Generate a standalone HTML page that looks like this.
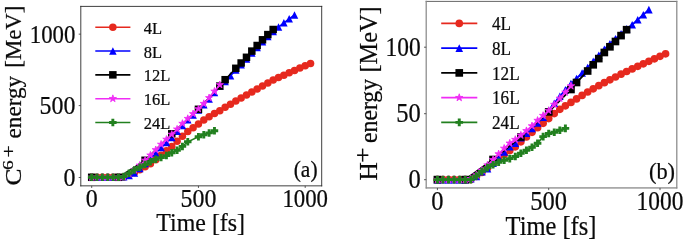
<!DOCTYPE html>
<html><head><meta charset="utf-8"><title>Ion energy vs time</title>
<style>
html,body{margin:0;padding:0;background:#fff;}
body{width:685px;height:240px;overflow:hidden;}
svg{display:block;will-change:transform;font-family:"Liberation Serif",serif;fill:#0a0a0a;}
text{stroke:#0a0a0a;stroke-width:0.22px;}
</style></head><body>
<svg width="685" height="240" viewBox="0 0 685 240">
<rect width="685" height="240" fill="#fff"/>
<g>
<polyline fill="none" stroke="#e6291e" stroke-width="1.55" points="91.70,177.30 97.04,177.30 102.38,177.30 107.71,177.30 113.05,177.30 118.39,177.30 123.72,176.90 129.06,175.10 134.40,172.50 139.74,169.80 145.07,166.80 150.41,163.80 155.75,159.80 161.09,155.30 166.43,150.80 171.76,146.50 177.10,141.30 182.44,136.30 187.78,131.60 193.11,127.80 198.45,124.00 203.79,120.10 209.12,116.70 214.46,113.55 219.80,110.80 225.14,107.30 230.48,104.20 235.81,101.05 241.15,97.90 246.49,94.90 251.82,91.90 257.16,88.90 262.50,85.90 267.84,82.90 273.18,80.10 278.51,77.60 283.85,75.20 289.19,72.80 294.52,70.40 299.86,68.10 305.20,65.80 310.54,63.60"/>
<circle cx="91.70" cy="177.30" r="3.75" fill="#e6291e"/>
<circle cx="97.04" cy="177.30" r="3.75" fill="#e6291e"/>
<circle cx="102.38" cy="177.30" r="3.75" fill="#e6291e"/>
<circle cx="107.71" cy="177.30" r="3.75" fill="#e6291e"/>
<circle cx="113.05" cy="177.30" r="3.75" fill="#e6291e"/>
<circle cx="118.39" cy="177.30" r="3.75" fill="#e6291e"/>
<circle cx="123.72" cy="176.90" r="3.75" fill="#e6291e"/>
<circle cx="129.06" cy="175.10" r="3.75" fill="#e6291e"/>
<circle cx="134.40" cy="172.50" r="3.75" fill="#e6291e"/>
<circle cx="139.74" cy="169.80" r="3.75" fill="#e6291e"/>
<circle cx="145.07" cy="166.80" r="3.75" fill="#e6291e"/>
<circle cx="150.41" cy="163.80" r="3.75" fill="#e6291e"/>
<circle cx="155.75" cy="159.80" r="3.75" fill="#e6291e"/>
<circle cx="161.09" cy="155.30" r="3.75" fill="#e6291e"/>
<circle cx="166.43" cy="150.80" r="3.75" fill="#e6291e"/>
<circle cx="171.76" cy="146.50" r="3.75" fill="#e6291e"/>
<circle cx="177.10" cy="141.30" r="3.75" fill="#e6291e"/>
<circle cx="182.44" cy="136.30" r="3.75" fill="#e6291e"/>
<circle cx="187.78" cy="131.60" r="3.75" fill="#e6291e"/>
<circle cx="193.11" cy="127.80" r="3.75" fill="#e6291e"/>
<circle cx="198.45" cy="124.00" r="3.75" fill="#e6291e"/>
<circle cx="203.79" cy="120.10" r="3.75" fill="#e6291e"/>
<circle cx="209.12" cy="116.70" r="3.75" fill="#e6291e"/>
<circle cx="214.46" cy="113.55" r="3.75" fill="#e6291e"/>
<circle cx="219.80" cy="110.80" r="3.75" fill="#e6291e"/>
<circle cx="225.14" cy="107.30" r="3.75" fill="#e6291e"/>
<circle cx="230.48" cy="104.20" r="3.75" fill="#e6291e"/>
<circle cx="235.81" cy="101.05" r="3.75" fill="#e6291e"/>
<circle cx="241.15" cy="97.90" r="3.75" fill="#e6291e"/>
<circle cx="246.49" cy="94.90" r="3.75" fill="#e6291e"/>
<circle cx="251.82" cy="91.90" r="3.75" fill="#e6291e"/>
<circle cx="257.16" cy="88.90" r="3.75" fill="#e6291e"/>
<circle cx="262.50" cy="85.90" r="3.75" fill="#e6291e"/>
<circle cx="267.84" cy="82.90" r="3.75" fill="#e6291e"/>
<circle cx="273.18" cy="80.10" r="3.75" fill="#e6291e"/>
<circle cx="278.51" cy="77.60" r="3.75" fill="#e6291e"/>
<circle cx="283.85" cy="75.20" r="3.75" fill="#e6291e"/>
<circle cx="289.19" cy="72.80" r="3.75" fill="#e6291e"/>
<circle cx="294.52" cy="70.40" r="3.75" fill="#e6291e"/>
<circle cx="299.86" cy="68.10" r="3.75" fill="#e6291e"/>
<circle cx="305.20" cy="65.80" r="3.75" fill="#e6291e"/>
<circle cx="310.54" cy="63.60" r="3.75" fill="#e6291e"/>
<polyline fill="none" stroke="#0000ff" stroke-width="1.55" points="91.70,177.30 97.04,177.30 102.38,177.30 107.71,177.30 113.05,177.30 118.39,177.30 123.72,176.80 129.06,175.60 134.40,173.00 139.74,168.50 145.07,163.50 150.41,158.40 155.75,153.00 161.09,147.60 166.43,142.60 171.76,137.60 177.10,131.20 182.44,125.50 187.78,119.80 193.11,115.00 198.45,110.10 203.79,104.80 209.12,99.00 214.46,92.50 219.80,86.00 225.14,81.50 230.48,75.80 235.81,70.10 241.15,64.80 246.49,59.10 251.82,53.10 257.16,47.50 262.50,41.80 267.84,36.50 273.18,31.50 278.51,27.00 283.85,22.80 289.19,18.80 294.52,15.00"/>
<path d="M91.70 173.55L95.45 181.05L87.95 181.05Z" fill="#0000ff"/>
<path d="M97.04 173.55L100.79 181.05L93.29 181.05Z" fill="#0000ff"/>
<path d="M102.38 173.55L106.12 181.05L98.62 181.05Z" fill="#0000ff"/>
<path d="M107.71 173.55L111.46 181.05L103.96 181.05Z" fill="#0000ff"/>
<path d="M113.05 173.55L116.80 181.05L109.30 181.05Z" fill="#0000ff"/>
<path d="M118.39 173.55L122.14 181.05L114.64 181.05Z" fill="#0000ff"/>
<path d="M123.72 173.05L127.47 180.55L119.97 180.55Z" fill="#0000ff"/>
<path d="M129.06 171.85L132.81 179.35L125.31 179.35Z" fill="#0000ff"/>
<path d="M134.40 169.25L138.15 176.75L130.65 176.75Z" fill="#0000ff"/>
<path d="M139.74 164.75L143.49 172.25L135.99 172.25Z" fill="#0000ff"/>
<path d="M145.07 159.75L148.82 167.25L141.32 167.25Z" fill="#0000ff"/>
<path d="M150.41 154.65L154.16 162.15L146.66 162.15Z" fill="#0000ff"/>
<path d="M155.75 149.25L159.50 156.75L152.00 156.75Z" fill="#0000ff"/>
<path d="M161.09 143.85L164.84 151.35L157.34 151.35Z" fill="#0000ff"/>
<path d="M166.43 138.85L170.18 146.35L162.68 146.35Z" fill="#0000ff"/>
<path d="M171.76 133.85L175.51 141.35L168.01 141.35Z" fill="#0000ff"/>
<path d="M177.10 127.45L180.85 134.95L173.35 134.95Z" fill="#0000ff"/>
<path d="M182.44 121.75L186.19 129.25L178.69 129.25Z" fill="#0000ff"/>
<path d="M187.78 116.05L191.53 123.55L184.03 123.55Z" fill="#0000ff"/>
<path d="M193.11 111.25L196.86 118.75L189.36 118.75Z" fill="#0000ff"/>
<path d="M198.45 106.35L202.20 113.85L194.70 113.85Z" fill="#0000ff"/>
<path d="M203.79 101.05L207.54 108.55L200.04 108.55Z" fill="#0000ff"/>
<path d="M209.12 95.25L212.88 102.75L205.38 102.75Z" fill="#0000ff"/>
<path d="M214.46 88.75L218.21 96.25L210.71 96.25Z" fill="#0000ff"/>
<path d="M219.80 82.25L223.55 89.75L216.05 89.75Z" fill="#0000ff"/>
<path d="M225.14 77.75L228.89 85.25L221.39 85.25Z" fill="#0000ff"/>
<path d="M230.48 72.05L234.23 79.55L226.73 79.55Z" fill="#0000ff"/>
<path d="M235.81 66.35L239.56 73.85L232.06 73.85Z" fill="#0000ff"/>
<path d="M241.15 61.05L244.90 68.55L237.40 68.55Z" fill="#0000ff"/>
<path d="M246.49 55.35L250.24 62.85L242.74 62.85Z" fill="#0000ff"/>
<path d="M251.82 49.35L255.57 56.85L248.07 56.85Z" fill="#0000ff"/>
<path d="M257.16 43.75L260.91 51.25L253.41 51.25Z" fill="#0000ff"/>
<path d="M262.50 38.05L266.25 45.55L258.75 45.55Z" fill="#0000ff"/>
<path d="M267.84 32.75L271.59 40.25L264.09 40.25Z" fill="#0000ff"/>
<path d="M273.18 27.75L276.93 35.25L269.43 35.25Z" fill="#0000ff"/>
<path d="M278.51 23.25L282.26 30.75L274.76 30.75Z" fill="#0000ff"/>
<path d="M283.85 19.05L287.60 26.55L280.10 26.55Z" fill="#0000ff"/>
<path d="M289.19 15.05L292.94 22.55L285.44 22.55Z" fill="#0000ff"/>
<path d="M294.52 11.25L298.27 18.75L290.77 18.75Z" fill="#0000ff"/>
<polyline fill="none" stroke="#000000" stroke-width="1.55" points="91.70,177.30 118.39,177.30 145.07,160.30 171.76,133.80 198.45,109.30 219.80,86.10 225.14,79.70 235.81,68.30 241.15,63.00 246.49,57.30 251.82,51.10 257.16,45.50 262.50,39.80 267.84,34.60 273.18,29.50"/>
<rect x="87.95" y="173.55" width="7.50" height="7.50" fill="#000000"/>
<rect x="114.64" y="173.55" width="7.50" height="7.50" fill="#000000"/>
<rect x="141.32" y="156.55" width="7.50" height="7.50" fill="#000000"/>
<rect x="168.01" y="130.05" width="7.50" height="7.50" fill="#000000"/>
<rect x="194.70" y="105.55" width="7.50" height="7.50" fill="#000000"/>
<rect x="216.05" y="82.35" width="7.50" height="7.50" fill="#000000"/>
<rect x="221.39" y="75.95" width="7.50" height="7.50" fill="#000000"/>
<rect x="232.06" y="64.55" width="7.50" height="7.50" fill="#000000"/>
<rect x="237.40" y="59.25" width="7.50" height="7.50" fill="#000000"/>
<rect x="242.74" y="53.55" width="7.50" height="7.50" fill="#000000"/>
<rect x="248.07" y="47.35" width="7.50" height="7.50" fill="#000000"/>
<rect x="253.41" y="41.75" width="7.50" height="7.50" fill="#000000"/>
<rect x="258.75" y="36.05" width="7.50" height="7.50" fill="#000000"/>
<rect x="264.09" y="30.85" width="7.50" height="7.50" fill="#000000"/>
<rect x="269.43" y="25.75" width="7.50" height="7.50" fill="#000000"/>
<polyline fill="none" stroke="#f02cf5" stroke-width="1.55" points="91.70,177.30 97.04,177.30 102.38,177.30 107.71,177.30 113.05,177.30 118.39,177.30 123.72,176.80 129.06,174.10 134.40,169.80 139.74,165.30 145.07,160.30 150.41,155.20 155.75,149.80 161.09,144.40 166.43,139.40 171.76,134.40 177.10,129.20 182.44,123.50 187.78,118.60 193.11,113.80 198.45,108.90 203.79,103.60 209.12,97.80 214.46,91.30 219.80,84.80"/>
<polygon points="91.70,173.50 92.55,176.13 95.31,176.13 93.08,177.75 93.93,180.37 91.70,178.75 89.47,180.37 90.32,177.75 88.09,176.13 90.85,176.13" fill="#f02cf5" stroke="#f02cf5" stroke-width="0.85" stroke-linejoin="miter" stroke-miterlimit="10"/>
<polygon points="97.04,173.50 97.89,176.13 100.65,176.13 98.42,177.75 99.27,180.37 97.04,178.75 94.80,180.37 95.66,177.75 93.42,176.13 96.18,176.13" fill="#f02cf5" stroke="#f02cf5" stroke-width="0.85" stroke-linejoin="miter" stroke-miterlimit="10"/>
<polygon points="102.38,173.50 103.23,176.13 105.99,176.13 103.76,177.75 104.61,180.37 102.38,178.75 100.14,180.37 100.99,177.75 98.76,176.13 101.52,176.13" fill="#f02cf5" stroke="#f02cf5" stroke-width="0.85" stroke-linejoin="miter" stroke-miterlimit="10"/>
<polygon points="107.71,173.50 108.57,176.13 111.33,176.13 109.09,177.75 109.95,180.37 107.71,178.75 105.48,180.37 106.33,177.75 104.10,176.13 106.86,176.13" fill="#f02cf5" stroke="#f02cf5" stroke-width="0.85" stroke-linejoin="miter" stroke-miterlimit="10"/>
<polygon points="113.05,173.50 113.90,176.13 116.66,176.13 114.43,177.75 115.28,180.37 113.05,178.75 110.82,180.37 111.67,177.75 109.44,176.13 112.20,176.13" fill="#f02cf5" stroke="#f02cf5" stroke-width="0.85" stroke-linejoin="miter" stroke-miterlimit="10"/>
<polygon points="118.39,173.50 119.24,176.13 122.00,176.13 119.77,177.75 120.62,180.37 118.39,178.75 116.15,180.37 117.01,177.75 114.77,176.13 117.53,176.13" fill="#f02cf5" stroke="#f02cf5" stroke-width="0.85" stroke-linejoin="miter" stroke-miterlimit="10"/>
<polygon points="123.72,173.00 124.58,175.63 127.34,175.63 125.11,177.25 125.96,179.87 123.72,178.25 121.49,179.87 122.34,177.25 120.11,175.63 122.87,175.63" fill="#f02cf5" stroke="#f02cf5" stroke-width="0.85" stroke-linejoin="miter" stroke-miterlimit="10"/>
<polygon points="129.06,170.30 129.92,172.93 132.68,172.93 130.44,174.55 131.30,177.17 129.06,175.55 126.83,177.17 127.68,174.55 125.45,172.93 128.21,172.93" fill="#f02cf5" stroke="#f02cf5" stroke-width="0.85" stroke-linejoin="miter" stroke-miterlimit="10"/>
<polygon points="134.40,166.00 135.25,168.63 138.01,168.63 135.78,170.25 136.63,172.87 134.40,171.25 132.17,172.87 133.02,170.25 130.79,168.63 133.55,168.63" fill="#f02cf5" stroke="#f02cf5" stroke-width="0.85" stroke-linejoin="miter" stroke-miterlimit="10"/>
<polygon points="139.74,161.50 140.59,164.13 143.35,164.13 141.12,165.75 141.97,168.37 139.74,166.75 137.50,168.37 138.36,165.75 136.12,164.13 138.88,164.13" fill="#f02cf5" stroke="#f02cf5" stroke-width="0.85" stroke-linejoin="miter" stroke-miterlimit="10"/>
<polygon points="145.07,156.50 145.93,159.13 148.69,159.13 146.46,160.75 147.31,163.37 145.07,161.75 142.84,163.37 143.69,160.75 141.46,159.13 144.22,159.13" fill="#f02cf5" stroke="#f02cf5" stroke-width="0.85" stroke-linejoin="miter" stroke-miterlimit="10"/>
<polygon points="150.41,151.40 151.27,154.03 154.03,154.03 151.79,155.65 152.65,158.27 150.41,156.65 148.18,158.27 149.03,155.65 146.80,154.03 149.56,154.03" fill="#f02cf5" stroke="#f02cf5" stroke-width="0.85" stroke-linejoin="miter" stroke-miterlimit="10"/>
<polygon points="155.75,146.00 156.60,148.63 159.36,148.63 157.13,150.25 157.98,152.87 155.75,151.25 153.52,152.87 154.37,150.25 152.14,148.63 154.90,148.63" fill="#f02cf5" stroke="#f02cf5" stroke-width="0.85" stroke-linejoin="miter" stroke-miterlimit="10"/>
<polygon points="161.09,140.60 161.94,143.23 164.70,143.23 162.47,144.85 163.32,147.47 161.09,145.85 158.85,147.47 159.71,144.85 157.47,143.23 160.23,143.23" fill="#f02cf5" stroke="#f02cf5" stroke-width="0.85" stroke-linejoin="miter" stroke-miterlimit="10"/>
<polygon points="166.43,135.60 167.28,138.23 170.04,138.23 167.81,139.85 168.66,142.47 166.43,140.85 164.19,142.47 165.04,139.85 162.81,138.23 165.57,138.23" fill="#f02cf5" stroke="#f02cf5" stroke-width="0.85" stroke-linejoin="miter" stroke-miterlimit="10"/>
<polygon points="171.76,130.60 172.62,133.23 175.38,133.23 173.14,134.85 174.00,137.47 171.76,135.85 169.53,137.47 170.38,134.85 168.15,133.23 170.91,133.23" fill="#f02cf5" stroke="#f02cf5" stroke-width="0.85" stroke-linejoin="miter" stroke-miterlimit="10"/>
<polygon points="177.10,125.40 177.95,128.03 180.71,128.03 178.48,129.65 179.33,132.27 177.10,130.65 174.87,132.27 175.72,129.65 173.49,128.03 176.25,128.03" fill="#f02cf5" stroke="#f02cf5" stroke-width="0.85" stroke-linejoin="miter" stroke-miterlimit="10"/>
<polygon points="182.44,119.70 183.29,122.33 186.05,122.33 183.82,123.95 184.67,126.57 182.44,124.95 180.20,126.57 181.06,123.95 178.82,122.33 181.58,122.33" fill="#f02cf5" stroke="#f02cf5" stroke-width="0.85" stroke-linejoin="miter" stroke-miterlimit="10"/>
<polygon points="187.78,114.80 188.63,117.43 191.39,117.43 189.16,119.05 190.01,121.67 187.78,120.05 185.54,121.67 186.39,119.05 184.16,117.43 186.92,117.43" fill="#f02cf5" stroke="#f02cf5" stroke-width="0.85" stroke-linejoin="miter" stroke-miterlimit="10"/>
<polygon points="193.11,110.00 193.97,112.63 196.73,112.63 194.49,114.25 195.35,116.87 193.11,115.25 190.88,116.87 191.73,114.25 189.50,112.63 192.26,112.63" fill="#f02cf5" stroke="#f02cf5" stroke-width="0.85" stroke-linejoin="miter" stroke-miterlimit="10"/>
<polygon points="198.45,105.10 199.30,107.73 202.06,107.73 199.83,109.35 200.68,111.97 198.45,110.35 196.22,111.97 197.07,109.35 194.84,107.73 197.60,107.73" fill="#f02cf5" stroke="#f02cf5" stroke-width="0.85" stroke-linejoin="miter" stroke-miterlimit="10"/>
<polygon points="203.79,99.80 204.64,102.43 207.40,102.43 205.17,104.05 206.02,106.67 203.79,105.05 201.55,106.67 202.41,104.05 200.17,102.43 202.93,102.43" fill="#f02cf5" stroke="#f02cf5" stroke-width="0.85" stroke-linejoin="miter" stroke-miterlimit="10"/>
<polygon points="209.12,94.00 209.98,96.63 212.74,96.63 210.51,98.25 211.36,100.87 209.12,99.25 206.89,100.87 207.74,98.25 205.51,96.63 208.27,96.63" fill="#f02cf5" stroke="#f02cf5" stroke-width="0.85" stroke-linejoin="miter" stroke-miterlimit="10"/>
<polygon points="214.46,87.50 215.32,90.13 218.08,90.13 215.84,91.75 216.70,94.37 214.46,92.75 212.23,94.37 213.08,91.75 210.85,90.13 213.61,90.13" fill="#f02cf5" stroke="#f02cf5" stroke-width="0.85" stroke-linejoin="miter" stroke-miterlimit="10"/>
<polygon points="219.80,81.00 220.65,83.63 223.41,83.63 221.18,85.25 222.03,87.87 219.80,86.25 217.57,87.87 218.42,85.25 216.19,83.63 218.95,83.63" fill="#f02cf5" stroke="#f02cf5" stroke-width="0.85" stroke-linejoin="miter" stroke-miterlimit="10"/>
<polyline fill="none" stroke="#22801f" stroke-width="1.55" points="91.70,177.30 97.04,177.30 102.38,177.30 107.71,177.30 113.05,177.30 118.39,177.30 123.72,176.60 129.06,173.30 134.40,169.90 139.74,167.30 145.07,164.60 150.41,161.80 155.75,159.30 161.09,157.60 166.43,155.60 171.76,152.80 177.10,150.30 182.44,146.40 187.78,141.80 198.45,136.70 203.79,134.80 209.12,132.90 214.46,130.80"/>
<path d="M90.26 173.55H93.14V175.86H95.45V178.74H93.14V181.05H90.26V178.74H87.95V175.86H90.26Z" fill="#22801f"/>
<path d="M95.60 173.55H98.48V175.86H100.79V178.74H98.48V181.05H95.60V178.74H93.29V175.86H95.60Z" fill="#22801f"/>
<path d="M100.94 173.55H103.81V175.86H106.12V178.74H103.81V181.05H100.94V178.74H98.62V175.86H100.94Z" fill="#22801f"/>
<path d="M106.28 173.55H109.15V175.86H111.46V178.74H109.15V181.05H106.28V178.74H103.96V175.86H106.28Z" fill="#22801f"/>
<path d="M111.61 173.55H114.49V175.86H116.80V178.74H114.49V181.05H111.61V178.74H109.30V175.86H111.61Z" fill="#22801f"/>
<path d="M116.95 173.55H119.83V175.86H122.14V178.74H119.83V181.05H116.95V178.74H114.64V175.86H116.95Z" fill="#22801f"/>
<path d="M122.29 172.85H125.16V175.16H127.47V178.04H125.16V180.35H122.29V178.04H119.97V175.16H122.29Z" fill="#22801f"/>
<path d="M127.62 169.55H130.50V171.86H132.81V174.74H130.50V177.05H127.62V174.74H125.31V171.86H127.62Z" fill="#22801f"/>
<path d="M132.96 166.15H135.84V168.46H138.15V171.34H135.84V173.65H132.96V171.34H130.65V168.46H132.96Z" fill="#22801f"/>
<path d="M138.30 163.55H141.18V165.86H143.49V168.74H141.18V171.05H138.30V168.74H135.99V165.86H138.30Z" fill="#22801f"/>
<path d="M143.64 160.85H146.51V163.16H148.82V166.04H146.51V168.35H143.64V166.04H141.32V163.16H143.64Z" fill="#22801f"/>
<path d="M148.97 158.05H151.85V160.36H154.16V163.24H151.85V165.55H148.97V163.24H146.66V160.36H148.97Z" fill="#22801f"/>
<path d="M154.31 155.55H157.19V157.86H159.50V160.74H157.19V163.05H154.31V160.74H152.00V157.86H154.31Z" fill="#22801f"/>
<path d="M159.65 153.85H162.53V156.16H164.84V159.04H162.53V161.35H159.65V159.04H157.34V156.16H159.65Z" fill="#22801f"/>
<path d="M164.99 151.85H167.86V154.16H170.18V157.04H167.86V159.35H164.99V157.04H162.68V154.16H164.99Z" fill="#22801f"/>
<path d="M170.32 149.05H173.20V151.36H175.51V154.24H173.20V156.55H170.32V154.24H168.01V151.36H170.32Z" fill="#22801f"/>
<path d="M175.66 146.55H178.54V148.86H180.85V151.74H178.54V154.05H175.66V151.74H173.35V148.86H175.66Z" fill="#22801f"/>
<path d="M181.00 142.65H183.88V144.96H186.19V147.84H183.88V150.15H181.00V147.84H178.69V144.96H181.00Z" fill="#22801f"/>
<path d="M186.34 138.05H189.21V140.36H191.53V143.24H189.21V145.55H186.34V143.24H184.03V140.36H186.34Z" fill="#22801f"/>
<path d="M197.01 132.95H199.89V135.26H202.20V138.14H199.89V140.45H197.01V138.14H194.70V135.26H197.01Z" fill="#22801f"/>
<path d="M202.35 131.05H205.23V133.36H207.54V136.24H205.23V138.55H202.35V136.24H200.04V133.36H202.35Z" fill="#22801f"/>
<path d="M207.69 129.15H210.56V131.46H212.88V134.34H210.56V136.65H207.69V134.34H205.38V131.46H207.69Z" fill="#22801f"/>
<path d="M213.03 127.05H215.90V129.36H218.21V132.24H215.90V134.55H213.03V132.24H210.71V129.36H213.03Z" fill="#22801f"/>
<path d="M80.80 6.40H321.70M80.80 185.85H321.70" fill="none" stroke="#2a2a2a" stroke-width="0.9" stroke-linecap="square"/>
<path d="M80.80 6.40V185.85M321.70 6.40V185.85" fill="none" stroke="#2a2a2a" stroke-width="0.9" stroke-linecap="square"/>
<line x1="91.70" y1="185.85" x2="91.70" y2="187.95" stroke="#333" stroke-width="0.8"/>
<text transform="translate(91.70,207.00) scale(1.0,1.075)" font-size="23.90" text-anchor="middle">0</text>
<line x1="198.45" y1="185.85" x2="198.45" y2="187.95" stroke="#333" stroke-width="0.8"/>
<text transform="translate(198.45,207.00) scale(1.0,1.075)" font-size="23.90" text-anchor="middle">500</text>
<line x1="305.20" y1="185.85" x2="305.20" y2="187.95" stroke="#333" stroke-width="0.8"/>
<text transform="translate(305.20,207.00) scale(0.955,1.075)" font-size="23.90" text-anchor="middle">1000</text>
<line x1="78.70" y1="177.50" x2="80.80" y2="177.50" stroke="#333" stroke-width="0.8"/>
<text transform="translate(75.40,185.98) scale(1.0,1.075)" font-size="23.90" text-anchor="end">0</text>
<line x1="78.70" y1="105.60" x2="80.80" y2="105.60" stroke="#333" stroke-width="0.8"/>
<text transform="translate(75.40,114.08) scale(1.0,1.075)" font-size="23.90" text-anchor="end">500</text>
<line x1="78.70" y1="34.15" x2="80.80" y2="34.15" stroke="#333" stroke-width="0.8"/>
<text transform="translate(75.40,42.63) scale(0.955,1.075)" font-size="23.90" text-anchor="end">1000</text>
<text transform="translate(200.70,230.70) scale(1.0,1.075)" font-size="23.90" text-anchor="middle">Time [fs]</text>
<text transform="translate(20.60,185.40) rotate(-90) scale(1.08,1.0)" font-size="23.50" text-anchor="start">C</text><text transform="translate(13.30,169.90) rotate(-90) scale(1.25,0.95)" font-size="15.50" text-anchor="start">6</text><text transform="translate(15.00,157.50) rotate(-90) scale(0.95,0.86)" font-size="23.00" text-anchor="start">+</text><text transform="translate(20.60,138.40) rotate(-90) scale(0.985,1.0)" font-size="23.50" text-anchor="start">energy</text><text transform="translate(20.60,5.60) rotate(-90) scale(0.972,1.0)" font-size="23.50" text-anchor="end">[MeV]</text>
<text transform="translate(305.60,176.70) scale(1.0,1.075)" font-size="21.50" text-anchor="middle">(a)</text>
<line x1="95.30" y1="27.25" x2="130.40" y2="27.25" stroke="#e6291e" stroke-width="1.55"/>
<circle cx="112.85" cy="27.25" r="3.75" fill="#e6291e"/>
<text transform="translate(143.80,33.75) scale(1.0,1.075)" font-size="16.50" text-anchor="start">4L</text>
<line x1="95.30" y1="51.05" x2="130.40" y2="51.05" stroke="#0000ff" stroke-width="1.55"/>
<path d="M112.85 47.30L116.60 54.80L109.10 54.80Z" fill="#0000ff"/>
<text transform="translate(143.80,57.55) scale(1.0,1.075)" font-size="16.50" text-anchor="start">8L</text>
<line x1="95.30" y1="74.85" x2="130.40" y2="74.85" stroke="#000000" stroke-width="1.55"/>
<rect x="109.10" y="71.10" width="7.50" height="7.50" fill="#000000"/>
<text transform="translate(143.80,81.35) scale(1.0,1.075)" font-size="16.50" text-anchor="start">12L</text>
<line x1="95.30" y1="98.65" x2="130.40" y2="98.65" stroke="#f02cf5" stroke-width="1.55"/>
<polygon points="112.85,94.85 113.70,97.48 116.46,97.48 114.23,99.10 115.08,101.72 112.85,100.10 110.62,101.72 111.47,99.10 109.24,97.48 112.00,97.48" fill="#f02cf5" stroke="#f02cf5" stroke-width="0.85" stroke-linejoin="miter" stroke-miterlimit="10"/>
<text transform="translate(143.80,105.15) scale(1.0,1.075)" font-size="16.50" text-anchor="start">16L</text>
<line x1="95.30" y1="122.45" x2="130.40" y2="122.45" stroke="#22801f" stroke-width="1.55"/>
<path d="M111.41 118.70H114.29V121.01H116.60V123.89H114.29V126.20H111.41V123.89H109.10V121.01H111.41Z" fill="#22801f"/>
<text transform="translate(143.80,128.95) scale(1.0,1.075)" font-size="16.50" text-anchor="start">24L</text>
</g>
<g>
<polyline fill="none" stroke="#e6291e" stroke-width="1.80" points="437.40,179.60 442.96,179.60 448.53,179.60 454.09,179.60 459.66,179.60 465.22,179.60 470.79,179.60 476.35,176.50 481.92,172.50 487.49,168.00 493.05,163.30 498.62,158.80 504.18,154.40 509.75,150.50 515.31,146.80 520.88,141.80 526.44,137.00 532.00,132.30 537.57,127.70 543.13,123.30 548.70,118.60 554.26,113.60 559.83,109.30 565.39,105.80 570.96,102.40 576.52,98.90 582.09,95.40 587.65,92.00 593.22,88.80 598.78,85.70 604.35,82.70 609.91,79.80 615.48,77.00 621.05,74.20 626.61,71.50 632.17,68.90 637.74,66.30 643.31,63.80 648.87,61.30 654.43,58.80 660.00,56.30 665.57,53.80"/>
<circle cx="437.40" cy="179.60" r="3.83" fill="#e6291e"/>
<circle cx="442.96" cy="179.60" r="3.83" fill="#e6291e"/>
<circle cx="448.53" cy="179.60" r="3.83" fill="#e6291e"/>
<circle cx="454.09" cy="179.60" r="3.83" fill="#e6291e"/>
<circle cx="459.66" cy="179.60" r="3.83" fill="#e6291e"/>
<circle cx="465.22" cy="179.60" r="3.83" fill="#e6291e"/>
<circle cx="470.79" cy="179.60" r="3.83" fill="#e6291e"/>
<circle cx="476.35" cy="176.50" r="3.83" fill="#e6291e"/>
<circle cx="481.92" cy="172.50" r="3.83" fill="#e6291e"/>
<circle cx="487.49" cy="168.00" r="3.83" fill="#e6291e"/>
<circle cx="493.05" cy="163.30" r="3.83" fill="#e6291e"/>
<circle cx="498.62" cy="158.80" r="3.83" fill="#e6291e"/>
<circle cx="504.18" cy="154.40" r="3.83" fill="#e6291e"/>
<circle cx="509.75" cy="150.50" r="3.83" fill="#e6291e"/>
<circle cx="515.31" cy="146.80" r="3.83" fill="#e6291e"/>
<circle cx="520.88" cy="141.80" r="3.83" fill="#e6291e"/>
<circle cx="526.44" cy="137.00" r="3.83" fill="#e6291e"/>
<circle cx="532.00" cy="132.30" r="3.83" fill="#e6291e"/>
<circle cx="537.57" cy="127.70" r="3.83" fill="#e6291e"/>
<circle cx="543.13" cy="123.30" r="3.83" fill="#e6291e"/>
<circle cx="548.70" cy="118.60" r="3.83" fill="#e6291e"/>
<circle cx="554.26" cy="113.60" r="3.83" fill="#e6291e"/>
<circle cx="559.83" cy="109.30" r="3.83" fill="#e6291e"/>
<circle cx="565.39" cy="105.80" r="3.83" fill="#e6291e"/>
<circle cx="570.96" cy="102.40" r="3.83" fill="#e6291e"/>
<circle cx="576.52" cy="98.90" r="3.83" fill="#e6291e"/>
<circle cx="582.09" cy="95.40" r="3.83" fill="#e6291e"/>
<circle cx="587.65" cy="92.00" r="3.83" fill="#e6291e"/>
<circle cx="593.22" cy="88.80" r="3.83" fill="#e6291e"/>
<circle cx="598.78" cy="85.70" r="3.83" fill="#e6291e"/>
<circle cx="604.35" cy="82.70" r="3.83" fill="#e6291e"/>
<circle cx="609.91" cy="79.80" r="3.83" fill="#e6291e"/>
<circle cx="615.48" cy="77.00" r="3.83" fill="#e6291e"/>
<circle cx="621.05" cy="74.20" r="3.83" fill="#e6291e"/>
<circle cx="626.61" cy="71.50" r="3.83" fill="#e6291e"/>
<circle cx="632.17" cy="68.90" r="3.83" fill="#e6291e"/>
<circle cx="637.74" cy="66.30" r="3.83" fill="#e6291e"/>
<circle cx="643.31" cy="63.80" r="3.83" fill="#e6291e"/>
<circle cx="648.87" cy="61.30" r="3.83" fill="#e6291e"/>
<circle cx="654.43" cy="58.80" r="3.83" fill="#e6291e"/>
<circle cx="660.00" cy="56.30" r="3.83" fill="#e6291e"/>
<circle cx="665.57" cy="53.80" r="3.83" fill="#e6291e"/>
<polyline fill="none" stroke="#0000ff" stroke-width="1.80" points="437.40,179.60 442.96,179.60 448.53,179.60 454.09,179.60 459.66,179.60 465.22,179.60 470.79,178.80 476.35,176.50 481.92,171.80 487.49,168.60 493.05,163.30 498.62,157.50 504.18,151.90 509.75,146.80 515.31,143.10 520.88,137.80 526.44,133.30 532.00,128.50 537.57,123.00 543.13,117.10 548.70,110.60 554.26,103.20 559.83,96.30 565.39,89.90 570.96,83.60 576.52,78.50 582.09,73.00 587.65,67.50 593.22,61.40 598.78,55.30 604.35,49.20 609.91,43.70 615.48,38.80 621.05,33.80 626.61,28.80 632.17,24.70 637.74,19.70 643.31,14.70 648.87,9.70"/>
<path d="M437.40 175.78L441.22 183.42L433.57 183.42Z" fill="#0000ff"/>
<path d="M442.96 175.78L446.79 183.42L439.14 183.42Z" fill="#0000ff"/>
<path d="M448.53 175.78L452.35 183.42L444.70 183.42Z" fill="#0000ff"/>
<path d="M454.09 175.78L457.92 183.42L450.27 183.42Z" fill="#0000ff"/>
<path d="M459.66 175.78L463.48 183.42L455.83 183.42Z" fill="#0000ff"/>
<path d="M465.22 175.78L469.05 183.42L461.40 183.42Z" fill="#0000ff"/>
<path d="M470.79 174.98L474.61 182.62L466.96 182.62Z" fill="#0000ff"/>
<path d="M476.35 172.68L480.18 180.32L472.53 180.32Z" fill="#0000ff"/>
<path d="M481.92 167.98L485.74 175.62L478.09 175.62Z" fill="#0000ff"/>
<path d="M487.49 164.78L491.31 172.42L483.66 172.42Z" fill="#0000ff"/>
<path d="M493.05 159.48L496.87 167.12L489.22 167.12Z" fill="#0000ff"/>
<path d="M498.62 153.68L502.44 161.32L494.79 161.32Z" fill="#0000ff"/>
<path d="M504.18 148.08L508.00 155.72L500.35 155.72Z" fill="#0000ff"/>
<path d="M509.75 142.98L513.57 150.62L505.92 150.62Z" fill="#0000ff"/>
<path d="M515.31 139.28L519.13 146.92L511.48 146.92Z" fill="#0000ff"/>
<path d="M520.88 133.98L524.70 141.62L517.05 141.62Z" fill="#0000ff"/>
<path d="M526.44 129.48L530.27 137.12L522.62 137.12Z" fill="#0000ff"/>
<path d="M532.00 124.67L535.83 132.32L528.18 132.32Z" fill="#0000ff"/>
<path d="M537.57 119.17L541.39 126.83L533.74 126.83Z" fill="#0000ff"/>
<path d="M543.13 113.27L546.96 120.92L539.31 120.92Z" fill="#0000ff"/>
<path d="M548.70 106.77L552.53 114.42L544.88 114.42Z" fill="#0000ff"/>
<path d="M554.26 99.38L558.09 107.03L550.44 107.03Z" fill="#0000ff"/>
<path d="M559.83 92.47L563.66 100.12L556.00 100.12Z" fill="#0000ff"/>
<path d="M565.39 86.08L569.22 93.73L561.57 93.73Z" fill="#0000ff"/>
<path d="M570.96 79.77L574.79 87.42L567.13 87.42Z" fill="#0000ff"/>
<path d="M576.52 74.67L580.35 82.33L572.70 82.33Z" fill="#0000ff"/>
<path d="M582.09 69.17L585.92 76.83L578.26 76.83Z" fill="#0000ff"/>
<path d="M587.65 63.67L591.48 71.33L583.83 71.33Z" fill="#0000ff"/>
<path d="M593.22 57.57L597.05 65.22L589.39 65.22Z" fill="#0000ff"/>
<path d="M598.78 51.47L602.61 59.12L594.96 59.12Z" fill="#0000ff"/>
<path d="M604.35 45.38L608.18 53.03L600.52 53.03Z" fill="#0000ff"/>
<path d="M609.91 39.88L613.74 47.53L606.09 47.53Z" fill="#0000ff"/>
<path d="M615.48 34.97L619.31 42.62L611.65 42.62Z" fill="#0000ff"/>
<path d="M621.05 29.97L624.87 37.62L617.22 37.62Z" fill="#0000ff"/>
<path d="M626.61 24.98L630.44 32.62L622.78 32.62Z" fill="#0000ff"/>
<path d="M632.17 20.88L636.00 28.52L628.35 28.52Z" fill="#0000ff"/>
<path d="M637.74 15.88L641.57 23.52L633.91 23.52Z" fill="#0000ff"/>
<path d="M643.31 10.88L647.13 18.52L639.48 18.52Z" fill="#0000ff"/>
<path d="M648.87 5.87L652.70 13.52L645.04 13.52Z" fill="#0000ff"/>
<polyline fill="none" stroke="#000000" stroke-width="1.80" points="437.40,179.60 465.22,179.60 493.05,159.50 520.88,137.00 548.70,111.90 570.96,89.50 576.52,82.50 587.65,71.00 593.22,64.80 598.78,58.60 604.35,52.50 609.91,46.80 615.48,41.50 621.05,35.60 626.61,29.70"/>
<rect x="433.57" y="175.78" width="7.65" height="7.65" fill="#000000"/>
<rect x="461.40" y="175.78" width="7.65" height="7.65" fill="#000000"/>
<rect x="489.22" y="155.68" width="7.65" height="7.65" fill="#000000"/>
<rect x="517.05" y="133.18" width="7.65" height="7.65" fill="#000000"/>
<rect x="544.88" y="108.08" width="7.65" height="7.65" fill="#000000"/>
<rect x="567.13" y="85.67" width="7.65" height="7.65" fill="#000000"/>
<rect x="572.70" y="78.67" width="7.65" height="7.65" fill="#000000"/>
<rect x="583.83" y="67.17" width="7.65" height="7.65" fill="#000000"/>
<rect x="589.39" y="60.97" width="7.65" height="7.65" fill="#000000"/>
<rect x="594.96" y="54.77" width="7.65" height="7.65" fill="#000000"/>
<rect x="600.52" y="48.67" width="7.65" height="7.65" fill="#000000"/>
<rect x="606.09" y="42.97" width="7.65" height="7.65" fill="#000000"/>
<rect x="611.65" y="37.67" width="7.65" height="7.65" fill="#000000"/>
<rect x="617.22" y="31.78" width="7.65" height="7.65" fill="#000000"/>
<rect x="622.78" y="25.88" width="7.65" height="7.65" fill="#000000"/>
<polyline fill="none" stroke="#f02cf5" stroke-width="1.80" points="437.40,179.60 442.96,179.60 448.53,179.60 454.09,179.60 459.66,179.60 465.22,179.60 470.79,178.80 476.35,175.00 481.92,170.30 487.49,165.10 493.05,159.80 498.62,154.00 504.18,148.40 509.75,143.30 515.31,139.60 520.88,135.30 526.44,130.80 532.00,126.00 537.57,120.50 543.13,115.60 548.70,110.60 554.26,104.60 559.83,98.40 565.39,92.30 570.96,86.00"/>
<polygon points="437.40,175.72 438.27,178.40 441.09,178.40 438.81,180.06 439.68,182.74 437.40,181.08 435.12,182.74 435.99,180.06 433.71,178.40 436.53,178.40" fill="#f02cf5" stroke="#f02cf5" stroke-width="0.87" stroke-linejoin="miter" stroke-miterlimit="10"/>
<polygon points="442.96,175.72 443.84,178.40 446.65,178.40 444.37,180.06 445.24,182.74 442.96,181.08 440.69,182.74 441.56,180.06 439.28,178.40 442.09,178.40" fill="#f02cf5" stroke="#f02cf5" stroke-width="0.87" stroke-linejoin="miter" stroke-miterlimit="10"/>
<polygon points="448.53,175.72 449.40,178.40 452.22,178.40 449.94,180.06 450.81,182.74 448.53,181.08 446.25,182.74 447.12,180.06 444.84,178.40 447.66,178.40" fill="#f02cf5" stroke="#f02cf5" stroke-width="0.87" stroke-linejoin="miter" stroke-miterlimit="10"/>
<polygon points="454.09,175.72 454.97,178.40 457.78,178.40 455.50,180.06 456.37,182.74 454.09,181.08 451.82,182.74 452.69,180.06 450.41,178.40 453.22,178.40" fill="#f02cf5" stroke="#f02cf5" stroke-width="0.87" stroke-linejoin="miter" stroke-miterlimit="10"/>
<polygon points="459.66,175.72 460.53,178.40 463.35,178.40 461.07,180.06 461.94,182.74 459.66,181.08 457.38,182.74 458.25,180.06 455.97,178.40 458.79,178.40" fill="#f02cf5" stroke="#f02cf5" stroke-width="0.87" stroke-linejoin="miter" stroke-miterlimit="10"/>
<polygon points="465.22,175.72 466.10,178.40 468.91,178.40 466.63,180.06 467.50,182.74 465.22,181.08 462.95,182.74 463.82,180.06 461.54,178.40 464.35,178.40" fill="#f02cf5" stroke="#f02cf5" stroke-width="0.87" stroke-linejoin="miter" stroke-miterlimit="10"/>
<polygon points="470.79,174.92 471.66,177.60 474.48,177.60 472.20,179.26 473.07,181.94 470.79,180.28 468.51,181.94 469.38,179.26 467.10,177.60 469.92,177.60" fill="#f02cf5" stroke="#f02cf5" stroke-width="0.87" stroke-linejoin="miter" stroke-miterlimit="10"/>
<polygon points="476.35,171.12 477.23,173.80 480.04,173.80 477.76,175.46 478.63,178.14 476.35,176.48 474.08,178.14 474.95,175.46 472.67,173.80 475.48,173.80" fill="#f02cf5" stroke="#f02cf5" stroke-width="0.87" stroke-linejoin="miter" stroke-miterlimit="10"/>
<polygon points="481.92,166.42 482.79,169.10 485.61,169.10 483.33,170.76 484.20,173.44 481.92,171.78 479.64,173.44 480.51,170.76 478.23,169.10 481.05,169.10" fill="#f02cf5" stroke="#f02cf5" stroke-width="0.87" stroke-linejoin="miter" stroke-miterlimit="10"/>
<polygon points="487.49,161.22 488.36,163.90 491.17,163.90 488.89,165.56 489.76,168.24 487.49,166.58 485.21,168.24 486.08,165.56 483.80,163.90 486.61,163.90" fill="#f02cf5" stroke="#f02cf5" stroke-width="0.87" stroke-linejoin="miter" stroke-miterlimit="10"/>
<polygon points="493.05,155.92 493.92,158.60 496.74,158.60 494.46,160.26 495.33,162.94 493.05,161.28 490.77,162.94 491.64,160.26 489.36,158.60 492.18,158.60" fill="#f02cf5" stroke="#f02cf5" stroke-width="0.87" stroke-linejoin="miter" stroke-miterlimit="10"/>
<polygon points="498.62,150.12 499.49,152.80 502.30,152.80 500.02,154.46 500.89,157.14 498.62,155.48 496.34,157.14 497.21,154.46 494.93,152.80 497.74,152.80" fill="#f02cf5" stroke="#f02cf5" stroke-width="0.87" stroke-linejoin="miter" stroke-miterlimit="10"/>
<polygon points="504.18,144.52 505.05,147.20 507.87,147.20 505.59,148.86 506.46,151.54 504.18,149.88 501.90,151.54 502.77,148.86 500.49,147.20 503.31,147.20" fill="#f02cf5" stroke="#f02cf5" stroke-width="0.87" stroke-linejoin="miter" stroke-miterlimit="10"/>
<polygon points="509.75,139.42 510.62,142.10 513.43,142.10 511.15,143.76 512.02,146.44 509.75,144.78 507.47,146.44 508.34,143.76 506.06,142.10 508.87,142.10" fill="#f02cf5" stroke="#f02cf5" stroke-width="0.87" stroke-linejoin="miter" stroke-miterlimit="10"/>
<polygon points="515.31,135.72 516.18,138.40 519.00,138.40 516.72,140.06 517.59,142.74 515.31,141.08 513.03,142.74 513.90,140.06 511.62,138.40 514.44,138.40" fill="#f02cf5" stroke="#f02cf5" stroke-width="0.87" stroke-linejoin="miter" stroke-miterlimit="10"/>
<polygon points="520.88,131.42 521.75,134.10 524.56,134.10 522.28,135.76 523.15,138.44 520.88,136.78 518.60,138.44 519.47,135.76 517.19,134.10 520.00,134.10" fill="#f02cf5" stroke="#f02cf5" stroke-width="0.87" stroke-linejoin="miter" stroke-miterlimit="10"/>
<polygon points="526.44,126.92 527.31,129.60 530.13,129.60 527.85,131.26 528.72,133.94 526.44,132.28 524.16,133.94 525.03,131.26 522.75,129.60 525.57,129.60" fill="#f02cf5" stroke="#f02cf5" stroke-width="0.87" stroke-linejoin="miter" stroke-miterlimit="10"/>
<polygon points="532.00,122.12 532.88,124.80 535.69,124.80 533.41,126.46 534.28,129.14 532.00,127.48 529.73,129.14 530.60,126.46 528.32,124.80 531.13,124.80" fill="#f02cf5" stroke="#f02cf5" stroke-width="0.87" stroke-linejoin="miter" stroke-miterlimit="10"/>
<polygon points="537.57,116.62 538.44,119.30 541.26,119.30 538.98,120.96 539.85,123.64 537.57,121.98 535.29,123.64 536.16,120.96 533.88,119.30 536.70,119.30" fill="#f02cf5" stroke="#f02cf5" stroke-width="0.87" stroke-linejoin="miter" stroke-miterlimit="10"/>
<polygon points="543.13,111.72 544.01,114.40 546.82,114.40 544.54,116.06 545.41,118.74 543.13,117.08 540.86,118.74 541.73,116.06 539.45,114.40 542.26,114.40" fill="#f02cf5" stroke="#f02cf5" stroke-width="0.87" stroke-linejoin="miter" stroke-miterlimit="10"/>
<polygon points="548.70,106.72 549.57,109.40 552.39,109.40 550.11,111.06 550.98,113.74 548.70,112.08 546.42,113.74 547.29,111.06 545.01,109.40 547.83,109.40" fill="#f02cf5" stroke="#f02cf5" stroke-width="0.87" stroke-linejoin="miter" stroke-miterlimit="10"/>
<polygon points="554.26,100.72 555.14,103.40 557.95,103.40 555.67,105.06 556.54,107.74 554.26,106.08 551.99,107.74 552.86,105.06 550.58,103.40 553.39,103.40" fill="#f02cf5" stroke="#f02cf5" stroke-width="0.87" stroke-linejoin="miter" stroke-miterlimit="10"/>
<polygon points="559.83,94.52 560.70,97.20 563.52,97.20 561.24,98.86 562.11,101.54 559.83,99.88 557.55,101.54 558.42,98.86 556.14,97.20 558.96,97.20" fill="#f02cf5" stroke="#f02cf5" stroke-width="0.87" stroke-linejoin="miter" stroke-miterlimit="10"/>
<polygon points="565.39,88.42 566.27,91.10 569.08,91.10 566.80,92.76 567.67,95.44 565.39,93.78 563.12,95.44 563.99,92.76 561.71,91.10 564.52,91.10" fill="#f02cf5" stroke="#f02cf5" stroke-width="0.87" stroke-linejoin="miter" stroke-miterlimit="10"/>
<polygon points="570.96,82.12 571.83,84.80 574.65,84.80 572.37,86.46 573.24,89.14 570.96,87.48 568.68,89.14 569.55,86.46 567.27,84.80 570.09,84.80" fill="#f02cf5" stroke="#f02cf5" stroke-width="0.87" stroke-linejoin="miter" stroke-miterlimit="10"/>
<polyline fill="none" stroke="#22801f" stroke-width="1.80" points="437.40,179.60 442.96,179.60 448.53,179.60 454.09,179.60 459.66,179.60 465.22,179.60 470.79,179.60 476.35,176.00 481.92,171.50 487.49,167.60 493.05,164.70 498.62,162.30 504.18,160.30 509.75,158.60 515.31,156.50 520.88,153.30 526.44,150.30 532.00,147.30 537.57,143.20 543.13,136.60 548.70,133.50 554.26,132.20 559.83,130.30 565.39,128.40"/>
<path d="M435.93 175.78H438.87V178.13H441.22V181.07H438.87V183.42H435.93V181.07H433.57V178.13H435.93Z" fill="#22801f"/>
<path d="M441.50 175.78H444.43V178.13H446.79V181.07H444.43V183.42H441.50V181.07H439.14V178.13H441.50Z" fill="#22801f"/>
<path d="M447.06 175.78H450.00V178.13H452.35V181.07H450.00V183.42H447.06V181.07H444.70V178.13H447.06Z" fill="#22801f"/>
<path d="M452.63 175.78H455.56V178.13H457.92V181.07H455.56V183.42H452.63V181.07H450.27V178.13H452.63Z" fill="#22801f"/>
<path d="M458.19 175.78H461.13V178.13H463.48V181.07H461.13V183.42H458.19V181.07H455.83V178.13H458.19Z" fill="#22801f"/>
<path d="M463.76 175.78H466.69V178.13H469.05V181.07H466.69V183.42H463.76V181.07H461.40V178.13H463.76Z" fill="#22801f"/>
<path d="M469.32 175.78H472.26V178.13H474.61V181.07H472.26V183.42H469.32V181.07H466.96V178.13H469.32Z" fill="#22801f"/>
<path d="M474.89 172.18H477.82V174.53H480.18V177.47H477.82V179.82H474.89V177.47H472.53V174.53H474.89Z" fill="#22801f"/>
<path d="M480.45 167.68H483.39V170.03H485.74V172.97H483.39V175.32H480.45V172.97H478.09V170.03H480.45Z" fill="#22801f"/>
<path d="M486.02 163.78H488.95V166.13H491.31V169.07H488.95V171.42H486.02V169.07H483.66V166.13H486.02Z" fill="#22801f"/>
<path d="M491.58 160.88H494.52V163.23H496.87V166.17H494.52V168.52H491.58V166.17H489.22V163.23H491.58Z" fill="#22801f"/>
<path d="M497.15 158.48H500.08V160.83H502.44V163.77H500.08V166.12H497.15V163.77H494.79V160.83H497.15Z" fill="#22801f"/>
<path d="M502.71 156.48H505.65V158.83H508.00V161.77H505.65V164.12H502.71V161.77H500.35V158.83H502.71Z" fill="#22801f"/>
<path d="M508.28 154.78H511.21V157.13H513.57V160.07H511.21V162.42H508.28V160.07H505.92V157.13H508.28Z" fill="#22801f"/>
<path d="M513.84 152.68H516.78V155.03H519.13V157.97H516.78V160.32H513.84V157.97H511.48V155.03H513.84Z" fill="#22801f"/>
<path d="M519.41 149.48H522.34V151.83H524.70V154.77H522.34V157.12H519.41V154.77H517.05V151.83H519.41Z" fill="#22801f"/>
<path d="M524.97 146.48H527.91V148.83H530.27V151.77H527.91V154.12H524.97V151.77H522.62V148.83H524.97Z" fill="#22801f"/>
<path d="M530.54 143.48H533.47V145.83H535.83V148.77H533.47V151.12H530.54V148.77H528.18V145.83H530.54Z" fill="#22801f"/>
<path d="M536.10 139.38H539.04V141.73H541.39V144.67H539.04V147.02H536.10V144.67H533.74V141.73H536.10Z" fill="#22801f"/>
<path d="M541.67 132.78H544.60V135.13H546.96V138.07H544.60V140.42H541.67V138.07H539.31V135.13H541.67Z" fill="#22801f"/>
<path d="M547.23 129.68H550.17V132.03H552.53V134.97H550.17V137.32H547.23V134.97H544.88V132.03H547.23Z" fill="#22801f"/>
<path d="M552.80 128.38H555.73V130.73H558.09V133.67H555.73V136.02H552.80V133.67H550.44V130.73H552.80Z" fill="#22801f"/>
<path d="M558.36 126.48H561.30V128.83H563.66V131.77H561.30V134.12H558.36V131.77H556.00V128.83H558.36Z" fill="#22801f"/>
<path d="M563.93 124.58H566.86V126.93H569.22V129.87H566.86V132.22H563.93V129.87H561.57V126.93H563.93Z" fill="#22801f"/>
<path d="M426.20 1.40H676.80M426.20 187.95H676.80" fill="none" stroke="#555" stroke-width="0.9" stroke-linecap="square"/>
<path d="M426.20 1.40V187.95M676.80 1.40V187.95" fill="none" stroke="#8a8a8a" stroke-width="1.25" stroke-linecap="square"/>
<line x1="437.40" y1="187.95" x2="437.40" y2="190.13" stroke="#333" stroke-width="0.8"/>
<text transform="translate(437.40,210.40) scale(1.0,1.075)" font-size="24.50" text-anchor="middle">0</text>
<line x1="548.70" y1="187.95" x2="548.70" y2="190.13" stroke="#333" stroke-width="0.8"/>
<text transform="translate(548.70,210.40) scale(1.0,1.075)" font-size="24.50" text-anchor="middle">500</text>
<line x1="660.00" y1="187.95" x2="660.00" y2="190.13" stroke="#333" stroke-width="0.8"/>
<text transform="translate(660.00,210.40) scale(0.955,1.075)" font-size="24.50" text-anchor="middle">1000</text>
<line x1="424.02" y1="179.70" x2="426.20" y2="179.70" stroke="#333" stroke-width="0.8"/>
<text transform="translate(420.70,188.39) scale(1.0,1.075)" font-size="24.50" text-anchor="end">0</text>
<line x1="424.02" y1="113.70" x2="426.20" y2="113.70" stroke="#333" stroke-width="0.8"/>
<text transform="translate(420.70,122.39) scale(1.0,1.075)" font-size="24.50" text-anchor="end">50</text>
<line x1="424.02" y1="47.20" x2="426.20" y2="47.20" stroke="#333" stroke-width="0.8"/>
<text transform="translate(420.70,55.89) scale(0.955,1.075)" font-size="24.50" text-anchor="end">100</text>
<text transform="translate(551.00,234.80) scale(1.0,1.075)" font-size="24.50" text-anchor="middle">Time [fs]</text>
<text transform="translate(377.00,180.40) rotate(-90) scale(1.04,1.0)" font-size="24.45" text-anchor="start">H</text><text transform="translate(369.50,163.00) rotate(-90) scale(1.15,0.98)" font-size="24.00" text-anchor="start">+</text><text transform="translate(377.00,143.00) rotate(-90) scale(0.97,1.0)" font-size="24.45" text-anchor="start">energy</text><text transform="translate(377.00,6.40) rotate(-90) scale(0.994,1.0)" font-size="24.45" text-anchor="end">[MeV]</text>
<text transform="translate(662.00,178.50) scale(1.0,1.075)" font-size="22.40" text-anchor="middle">(b)</text>
<line x1="441.20" y1="23.40" x2="477.30" y2="23.40" stroke="#e6291e" stroke-width="1.80"/>
<circle cx="459.25" cy="23.40" r="3.83" fill="#e6291e"/>
<text transform="translate(492.00,30.16) scale(1.0,1.075)" font-size="17.15" text-anchor="start">4L</text>
<line x1="441.20" y1="48.15" x2="477.30" y2="48.15" stroke="#0000ff" stroke-width="1.80"/>
<path d="M459.25 44.32L463.07 51.98L455.43 51.98Z" fill="#0000ff"/>
<text transform="translate(492.00,54.91) scale(1.0,1.075)" font-size="17.15" text-anchor="start">8L</text>
<line x1="441.20" y1="72.90" x2="477.30" y2="72.90" stroke="#000000" stroke-width="1.80"/>
<rect x="455.43" y="69.08" width="7.65" height="7.65" fill="#000000"/>
<text transform="translate(492.00,79.66) scale(1.0,1.075)" font-size="17.15" text-anchor="start">12L</text>
<line x1="441.20" y1="97.65" x2="477.30" y2="97.65" stroke="#f02cf5" stroke-width="1.80"/>
<polygon points="459.25,93.77 460.12,96.45 462.94,96.45 460.66,98.11 461.53,100.79 459.25,99.13 456.97,100.79 457.84,98.11 455.56,96.45 458.38,96.45" fill="#f02cf5" stroke="#f02cf5" stroke-width="0.87" stroke-linejoin="miter" stroke-miterlimit="10"/>
<text transform="translate(492.00,104.41) scale(1.0,1.075)" font-size="17.15" text-anchor="start">16L</text>
<line x1="441.20" y1="122.40" x2="477.30" y2="122.40" stroke="#22801f" stroke-width="1.80"/>
<path d="M457.78 118.58H460.72V120.93H463.07V123.87H460.72V126.23H457.78V123.87H455.43V120.93H457.78Z" fill="#22801f"/>
<text transform="translate(492.00,129.16) scale(1.0,1.075)" font-size="17.15" text-anchor="start">24L</text>
</g>
</svg>
</body></html>
